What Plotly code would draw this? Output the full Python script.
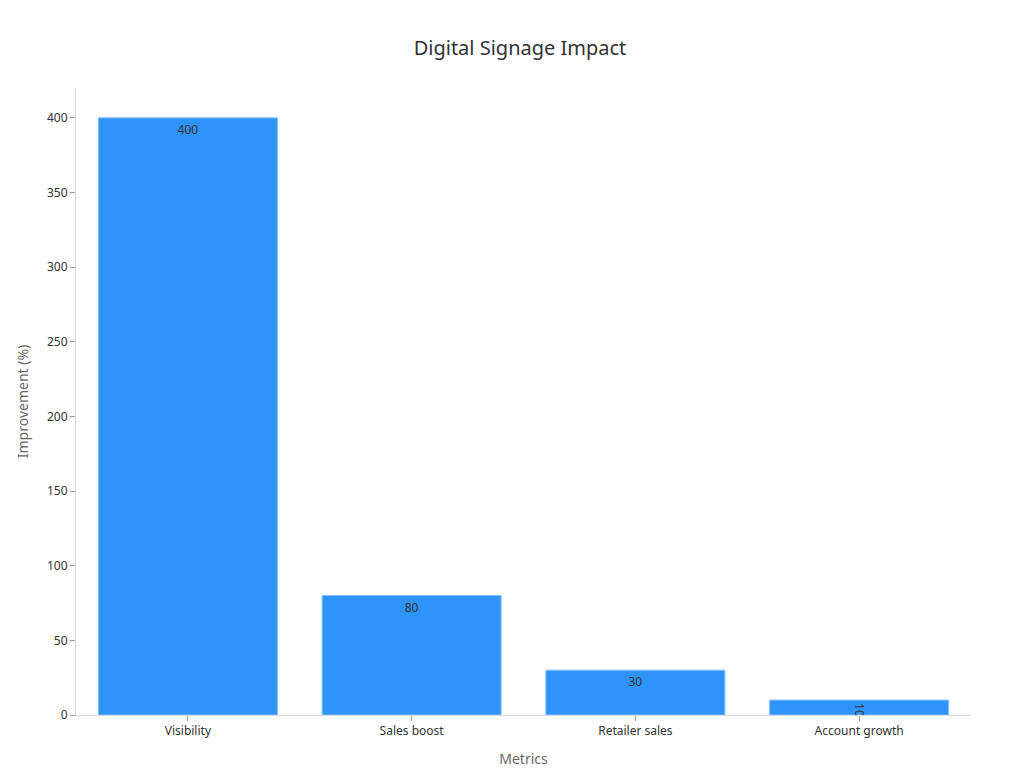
import plotly.graph_objects as go

categories = ["Visibility", "Sales boost", "Retailer sales", "Account growth"]
values = [400, 80, 30, 10]

fig = go.Figure(go.Bar(
    x=categories, y=values, text=values, textposition="inside",
    insidetextanchor="end",
    textfont=dict(color="#333333", size=12),
    marker=dict(color="#2E93FA", line=dict(color="#7FBFFF", width=1)),
))
fig.update_layout(
    width=1024, height=768,
    title=dict(text="Digital Signage Impact", x=0.5, y=0.957, xanchor="center",
               font=dict(size=20, color="#333333")),
    font=dict(family="Noto Sans, DejaVu Sans, sans-serif", color="#333333", size=12),
    plot_bgcolor="white", paper_bgcolor="white",
    margin=dict(l=68, r=61, t=80, b=61),
    bargap=0.2, showlegend=False,
    uniformtext=dict(minsize=8, mode="show"),
)
fig.update_xaxes(title=dict(text="Metrics", font=dict(size=14, color="#666666")),
                 showline=True, linecolor="#d9d9d9", ticks="outside",
                 tickcolor="#999999", ticklen=5, showgrid=False)
fig.update_yaxes(title=dict(text="Improvement (%)", font=dict(size=14, color="#666666")),
                 range=[0, 420], dtick=50, showline=True, linecolor="#d9d9d9",
                 ticks="outside", tickcolor="#999999", ticklen=5, showgrid=False,
                 zeroline=False)
fig.write_html("out.html")
